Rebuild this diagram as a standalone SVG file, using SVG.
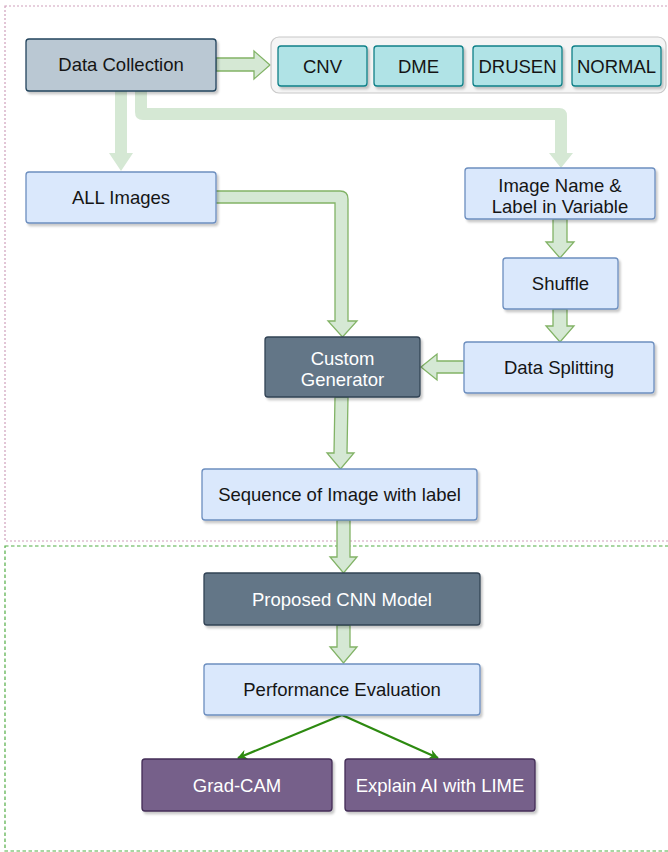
<svg xmlns="http://www.w3.org/2000/svg" width="668" height="852" viewBox="0 0 668 852">
<defs>
<filter id="sh" x="-10%" y="-10%" width="130%" height="140%">
<feDropShadow dx="2" dy="2.5" stdDeviation="1.2" flood-color="#000" flood-opacity="0.22"/>
</filter>
<marker id="ah" viewBox="0 0 10 10" refX="9" refY="5" markerWidth="10" markerHeight="10" markerUnits="userSpaceOnUse" orient="auto">
<path d="M0,0 L10,5 L0,10 L3,5 Z" fill="#2d8a10"/>
</marker>
<style>
text{font-family:"Liberation Sans",Arial,sans-serif;font-size:18.5px;text-anchor:middle;fill:#151515}
.wt{fill:#ffffff}
.dc{fill:#bac8d3;stroke:#23445d;stroke-width:1.3}
.lb{fill:#dae8fc;stroke:#6c8ebf;stroke-width:1.3}
.tl{fill:#b0e3e6;stroke:#0e8088;stroke-width:1.3}
.dk{fill:#647687;stroke:#314354;stroke-width:1.3}
.pu{fill:#76608a;stroke:#432d57;stroke-width:1.3}
.fa{fill:#d5e8d4;stroke:#82b366;stroke-width:1.3;stroke-linejoin:miter}
.pa{fill:#d5e8d4;stroke:none}
.ln{fill:none;stroke:#2d8a10;stroke-width:2.2}
</style>
</defs>
<g id="containers">
<rect x="5" y="6" width="680" height="535" fill="none" stroke="#cf9fbb" stroke-width="1.2" stroke-dasharray="2,2"/>
<rect x="5" y="546" width="680" height="305" fill="none" stroke="#52ad45" stroke-width="1.2" stroke-dasharray="3.5,2.5"/>
</g>
<g id="connectors">
<path class="pa" d="M115,91 L127,91 L127,153 L133,153 L121,171 L109,153 L115,153 Z"/>
<path class="pa" d="M135,91 L147,91 L147,108 L559,108 Q567,108 567,116 L567,153 L573,153 L561,168 L549,153 L555,153 L555,120 L143,120 Q135,120 135,112 Z"/>
<path class="fa" d="M216,58 L254,58 L254,51 L270,65 L254,79 L254,71 L216,71 Z"/>
<path class="fa" d="M215,191 L340,191 Q348,191 348,199 L348,321 L357,321 L342.5,337 L328,321 L335,321 L335,203 L215,203 Z"/>
<path class="fa" d="M553,219 L567,219 L567,242 L574,242 L560,258 L546,242 L553,242 Z"/>
<path class="fa" d="M553,309 L567,309 L567,326 L574,326 L560,342 L546,326 L553,326 Z"/>
<path class="fa" d="M464,361 L437,361 L437,354 L421,367 L437,380 L437,373 L464,373 Z"/>
<path class="fa" d="M335,397 L348,397 L347,453 L354,453 L340.5,469 L327,453 L334,453 Z"/>
<path class="fa" d="M337,520 L350,520 L350,557 L357,557 L343.5,573 L330,557 L337,557 Z"/>
<path class="fa" d="M337,625 L350,625 L350,647 L357,647 L343.5,663 L330,647 L337,647 Z"/>
<path class="ln" d="M342,715 L238,758" marker-end="url(#ah)"/>
<path class="ln" d="M342,715 L438,758" marker-end="url(#ah)"/>
</g>
<g id="data-collection">
<rect class="dc" x="26" y="39" width="190" height="52" rx="3" filter="url(#sh)"/>
<text x="121" y="71">Data Collection</text>
</g>
<g id="classes">
<rect x="271" y="37" width="395" height="56" rx="8" fill="#f5f5f5" stroke="#c8c8c8" stroke-width="1.2"/>
</g>
<g id="cnv">
<rect class="tl" x="278" y="46" width="89" height="40" rx="3" filter="url(#sh)"/>
<text x="322.5" y="72.5">CNV</text>
</g>
<g id="dme">
<rect class="tl" x="374" y="46" width="89" height="40" rx="3" filter="url(#sh)"/>
<text x="418.5" y="72.5">DME</text>
</g>
<g id="drusen">
<rect class="tl" x="473" y="46" width="89" height="40" rx="3" filter="url(#sh)"/>
<text x="517.5" y="72.5">DRUSEN</text>
</g>
<g id="normal">
<rect class="tl" x="572" y="46" width="89" height="40" rx="3" filter="url(#sh)"/>
<text x="616.5" y="72.5">NORMAL</text>
</g>
<g id="all-images">
<rect class="lb" x="26" y="172" width="190" height="51" rx="3" filter="url(#sh)"/>
<text x="121" y="204">ALL Images</text>
</g>
<g id="image-name">
<rect class="lb" x="465" y="168" width="190" height="51" rx="3" filter="url(#sh)"/>
<text x="560" y="191.5">Image Name &amp;</text>
<text x="560" y="212.5">Label in Variable</text>
</g>
<g id="shuffle">
<rect class="lb" x="503" y="258" width="115" height="51" rx="3" filter="url(#sh)"/>
<text x="560.5" y="290">Shuffle</text>
</g>
<g id="data-splitting">
<rect class="lb" x="464" y="342" width="190" height="51" rx="3" filter="url(#sh)"/>
<text x="559" y="374">Data Splitting</text>
</g>
<g id="custom-generator">
<rect class="dk" x="265" y="337" width="155" height="60" rx="3" filter="url(#sh)"/>
<text class="wt" x="342.5" y="364.5">Custom</text>
<text class="wt" x="342.5" y="386">Generator</text>
</g>
<g id="sequence">
<rect class="lb" x="202" y="469" width="275" height="51" rx="3" filter="url(#sh)"/>
<text x="339.5" y="501">Sequence of Image with label</text>
</g>
<g id="cnn-model">
<rect class="dk" x="204" y="573" width="276" height="52" rx="3" filter="url(#sh)"/>
<text class="wt" x="342" y="605.5">Proposed CNN Model</text>
</g>
<g id="performance">
<rect class="lb" x="204" y="664" width="276" height="51" rx="3" filter="url(#sh)"/>
<text x="342" y="696">Performance Evaluation</text>
</g>
<g id="grad-cam">
<rect class="pu" x="142" y="759" width="190" height="52" rx="3" filter="url(#sh)"/>
<text class="wt" x="237" y="791.5">Grad-CAM</text>
</g>
<g id="lime">
<rect class="pu" x="345" y="759" width="190" height="52" rx="3" filter="url(#sh)"/>
<text class="wt" x="440" y="791.5">Explain AI with LIME</text>
</g>
</svg>
